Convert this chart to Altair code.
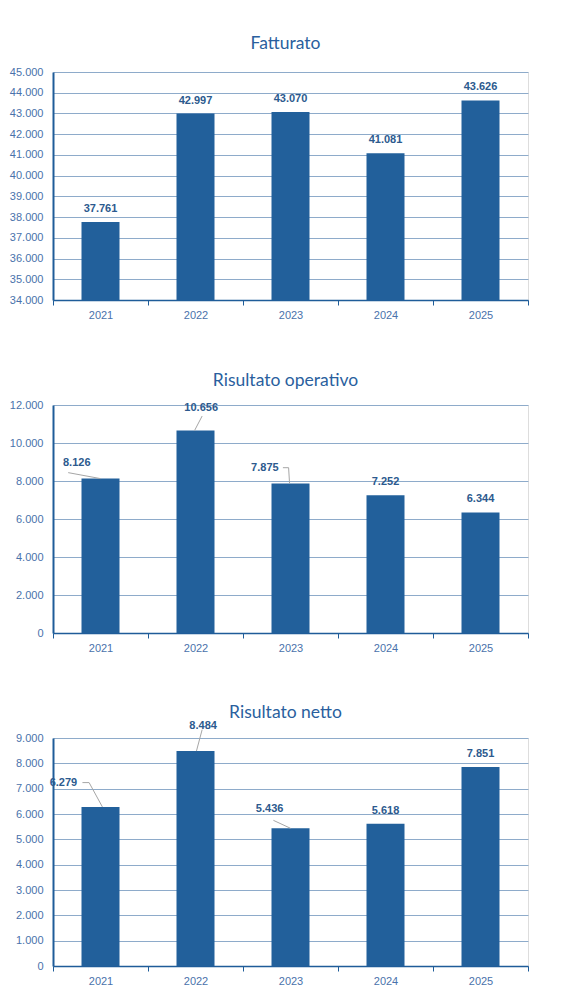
import altair as alt
import pandas as pd

# ---- data ----
years = ["2021", "2022", "2023", "2024", "2025"]
fatturato = [37761, 42997, 43070, 41081, 43626]
risultato_operativo = [8126, 10656, 7875, 7252, 6344]
risultato_netto = [6279, 8484, 5436, 5618, 7851]

# label placements (x in year units, y in data units)
op_label_years = ["2021", "2022", "2023"]
op_label_x = [2020.75, 2022.06, 2022.73]
op_label_y = [8950, 11840, 8680]
op_leaders = {
    "2021": [(2020.66, 8440), (2021.0, 8126)],
    "2022": [(2022.07, 11420), (2021.99, 10656)],
    "2023": [(2022.92, 8700), (2022.98, 8700), (2022.99, 7875)],
}
net_label_years = ["2021", "2022", "2023"]
net_label_x = [2020.61, 2022.08, 2022.78]
net_label_y = [7240, 9470, 6210]
net_leaders = {
    "2021": [(2020.81, 7240), (2020.88, 7240), (2021.02, 6279)],
    "2022": [(2022.07, 9330), (2022.01, 8484)],
    "2023": [(2022.82, 5750), (2023.0, 5436)],
}

BAR = "#22609b"
DARK = "#1f5c99"
GRID = "#8eabca"
TICKLBL = "#4a72ab"
LBL = "#2c5a8e"
TITLE = "#2a5f9e"
LEADER = "#a6a6a6"

W, H = 475, 228


def panel(title, values, domain, step, title_offset,
          label_years=None, label_x=None, label_y=None, leaders=None):
    label_years = label_years or []
    df = pd.DataFrame({"year": years, "value": values})
    df["direct"] = ~df["year"].isin(label_years)

    yscale = alt.Scale(domain=domain, nice=False, zero=False)
    yaxis = alt.Axis(
        title=None, values=list(range(domain[0], domain[1] + 1, step)), format=",d",
        labelColor=TICKLBL, labelFontSize=11, labelFont="Liberation Sans",
        grid=True, gridColor=GRID, gridWidth=1, ticks=False,
        domainColor=DARK, domainWidth=2, labelPadding=10,
        minExtent=40, maxExtent=40,
    )
    xaxis = alt.Axis(
        title=None, labelAngle=0, tickBand="extent", ticks=True, tickSize=5,
        tickColor=DARK, domainColor=DARK, domainWidth=1.5, labelPadding=4,
        labelColor=TICKLBL, labelFontSize=11, labelFont="Liberation Sans", grid=False,
        orient="bottom",
    )
    xscale = alt.Scale(paddingInner=0, paddingOuter=0)

    base = alt.Chart(df)
    bars = base.mark_bar(color=BAR, width=alt.RelativeBandSize(0.4), clip=True).encode(
        x=alt.X("year:N", scale=xscale, axis=xaxis),
        y=alt.Y("value:Q", scale=yscale, axis=yaxis),
    )
    direct = base.transform_filter("datum.direct").mark_text(
        dy=-13, baseline="middle", fontWeight="bold", fontSize=11,
        font="Liberation Sans", color=LBL,
    ).encode(
        x=alt.X("year:N", scale=xscale, axis=xaxis),
        y=alt.Y("value:Q", scale=yscale, axis=yaxis),
        text=alt.Text("value:Q", format=",d"),
    )
    band_layer = alt.layer(bars, direct)
    layers = [band_layer]

    qx = alt.Scale(domain=[2020.5, 2025.5], nice=False, zero=False)
    if label_years:
        vals = dict(zip(years, values))
        ldf = pd.DataFrame({
            "lx": label_x, "ly": label_y,
            "txt": [vals[y] for y in label_years],
        })
        rows = []
        for k, pts in leaders.items():
            for i, (px, py) in enumerate(pts):
                rows.append({"seg": k, "ord": i, "lx": px, "ly": py})
        sdf = pd.DataFrame(rows)
        lines = alt.Chart(sdf).mark_line(color=LEADER, strokeWidth=1).encode(
            x=alt.X("lx:Q", scale=qx, axis=None),
            y=alt.Y("ly:Q", scale=yscale, axis=yaxis),
            detail="seg:N",
            order="ord:Q",
        )
        texts = alt.Chart(ldf).mark_text(
            baseline="middle", fontWeight="bold", fontSize=11,
            font="Liberation Sans", color=LBL,
        ).encode(
            x=alt.X("lx:Q", scale=qx, axis=None),
            y=alt.Y("ly:Q", scale=yscale, axis=yaxis),
            text=alt.Text("txt:Q", format=",d"),
        )
        layers.append(alt.layer(lines, texts))
        out = alt.layer(*layers).resolve_scale(x="independent")
    else:
        out = band_layer

    return out.properties(
        width=W, height=H,
        title=alt.TitleParams(
            title, fontSize=17.5, font="Lato", fontWeight="normal", color=TITLE,
            anchor="middle", frame="group", dx=-5, offset=title_offset,
        ),
    )


c1 = panel("Fatturato", fatturato, [34000, 45000], 1000, 14)
c2 = panel("Risultato operativo", risultato_operativo, [0, 12000], 2000, 10,
           op_label_years, op_label_x, op_label_y, op_leaders)
c3 = panel("Risultato netto", risultato_netto, [0, 9000], 1000, -1,
           net_label_years, net_label_x, net_label_y, net_leaders)

chart = alt.vconcat(c1, c2, c3, spacing=105, bounds="flush").properties(
    padding={"left": 0, "top": 26, "right": 5, "bottom": 5}
).configure_view(stroke=None).configure(
    locale={"number": {"decimal": ",", "thousands": ".", "grouping": [3], "currency": ["€", ""]}}
)

chart.save("out.html", embed_options={"renderer": "svg", "actions": False})
